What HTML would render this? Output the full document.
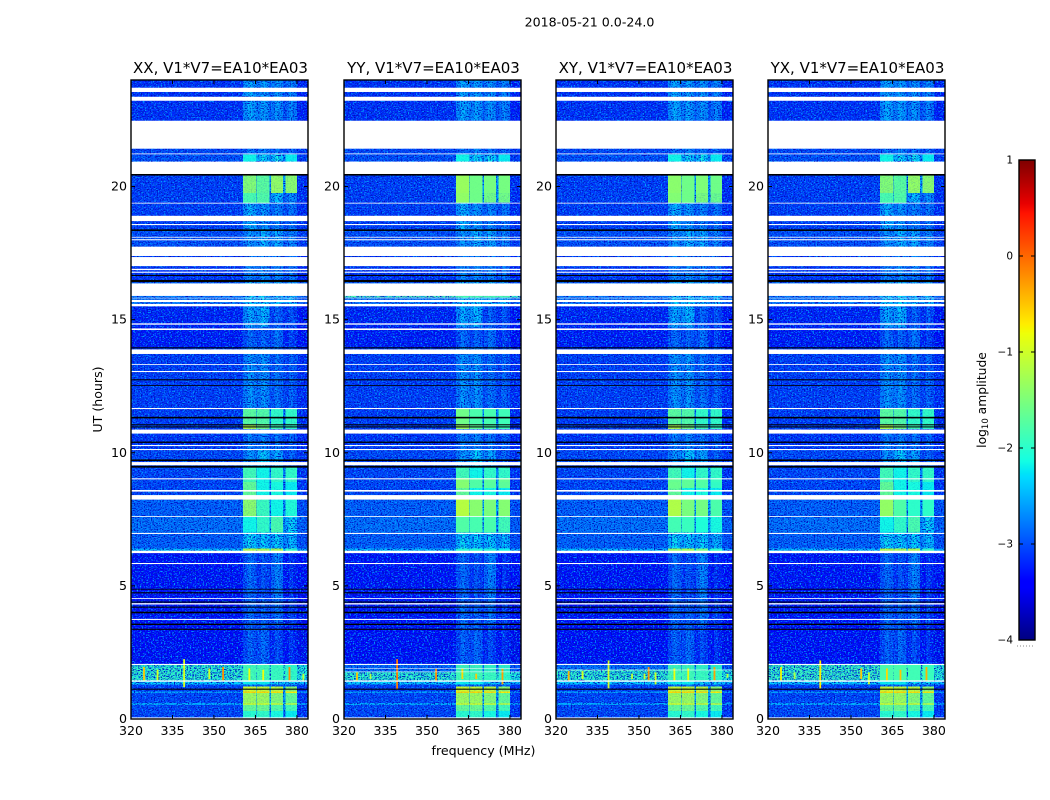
<!DOCTYPE html>
<html lang="en">
<head>
<meta charset="utf-8">
<title>2018-05-21 dynamic spectrum</title>
<style>
html,body{margin:0;padding:0;background:#fff;width:1050px;height:800px;overflow:hidden}
svg{display:block}
text{font-family:"DejaVu Sans","Liberation Sans",sans-serif;fill:#000}
</style>
</head>
<body>
<svg id="chart" xmlns="http://www.w3.org/2000/svg" width="1050" height="800" viewBox="0 0 1050 800">
<defs>
<filter id="speck-light" x="0" y="0" width="100%" height="100%" color-interpolation-filters="sRGB">
<feTurbulence type="fractalNoise" baseFrequency="0.62 0.8" numOctaves="1" seed="4"/>
<feColorMatrix type="matrix" values="0 0 0 0 0  0 0 0 0 0.62  0 0 0 0 1  5 0 0 0 -2.45"/>
</filter>
<filter id="speck-dark" x="0" y="0" width="100%" height="100%" color-interpolation-filters="sRGB">
<feTurbulence type="fractalNoise" baseFrequency="0.7 0.85" numOctaves="1" seed="11"/>
<feColorMatrix type="matrix" values="0 0 0 0 0  0 0 0 0 0.05  0 0 0 0 0.75  5 0 0 0 -2.45"/>
</filter>
</defs>
<text x="589.5" y="26.5" text-anchor="middle" font-size="12.6">2018-05-21 0.0-24.0</text>
<text x="483.5" y="755" text-anchor="middle" font-size="12.6">frequency (MHz)</text>
<text transform="translate(102,399.5) rotate(-90)" text-anchor="middle" font-size="12.6">UT (hours)</text>
<text transform="translate(986,400) rotate(-90)" text-anchor="middle" font-size="12.3">log<tspan font-size="8.5" dy="2">10</tspan><tspan dy="-2"> amplitude</tspan></text>
</svg>
<script>
// ----- chart data -----
const panelTitles = ["XX, V1*V7=EA10*EA03", "YY, V1*V7=EA10*EA03", "XY, V1*V7=EA10*EA03", "YX, V1*V7=EA10*EA03"];
const hourTicks = [0, 5, 10, 15, 20];
const freqTicks = [320, 335, 350, 365, 380];
const colorTicks = [1, 0, -1, -2, -3, -4];
// sub-band frequency ranges in MHz (the RFI comb), and the shape across a quiet sub-band
const subBands = [[360.5, 365.3], [365.6, 370], [370.7, 375], [375.8, 380]];
const subBandShape = [-0.12, 0.1, -0.03];
// time bands: start hour, end hour, log10 amplitude for background and sub-bands 1-4
const timeBands = [
  [22.5, 24, -3.17, -2.55, -2.6, -2.65, -2.75],
  [21.42, 22.5, -3.15, -2.75, -2.75, -2.85, -2.95],
  [21.21, 21.42, -3.05, -2.85, -2.75, -2.85, -2.95],
  [20.93, 21.21, -3.0, -2.15, -2.3, -2.25, -2.2],
  [19.76, 20.45, -3.1, -1.45, -1.7, -1.35, -1.4],
  [19.36, 19.76, -3.1, -1.8, -1.75, -2.4, -2.7],
  [18.4, 19.36, -3.1, -2.5, -2.65, -2.75, -2.85],
  [17.4, 18.4, -3.0, -2.65, -2.5, -2.55, -2.75],
  [16.4, 17.4, -3.15, -2.75, -2.7, -2.75, -2.85],
  [15.55, 16.4, -2.8, -2.35, -2.35, -2.45, -2.45],
  [14.7, 15.55, -3.25, -2.55, -2.45, -2.95, -3.05],
  [13.95, 14.7, -3.3, -2.9, -2.95, -2.85, -3.15],
  [11.66, 13.95, -3.1, -2.65, -2.65, -2.85, -2.95],
  [11.07, 11.66, -3.1, -1.7, -1.75, -1.95, -1.95],
  [10.9, 11.07, -3.1, -1.2, -1.55, -1.85, -1.95],
  [10.1, 10.9, -3.15, -2.8, -2.75, -2.85, -2.95],
  [9.5, 10.1, -3.05, -2.65, -2.35, -2.55, -2.95],
  [8.9, 9.5, -3.05, -1.85, -2.15, -1.95, -1.95],
  [8.24, 8.9, -3.05, -1.65, -2.15, -2.1, -2.2],
  [7.6, 8.24, -2.9, -1.4, -1.9, -2.15, -2.05],
  [7.0, 7.6, -2.8, -2.15, -1.95, -1.8, -2.3],
  [6.4, 7.0, -2.9, -2.3, -2.35, -2.35, -2.45],
  [6.25, 6.4, -2.4, -1.15, -1.2, -1.2, -1.95],
  [4.5, 6.25, -3.35, -2.9, -3.05, -2.75, -3.25],
  [3.5, 4.5, -3.35, -2.9, -2.95, -2.85, -3.15],
  [2.05, 3.5, -3.4, -2.95, -2.9, -3.1, -3.25],
  [1.42, 2.05, -1.95, -1.85, -1.85, -1.9, -1.95],
  [1.3, 1.42, -2.3, -2.2, -2.2, -2.3, -2.3],
  [1.22, 1.3, -3.05, -2.8, -2.8, -2.9, -2.95],
  [1.03, 1.22, -3.1, -1.0, -1.05, -1.1, -1.4],
  [0.98, 1.03, -2.5, -0.6, -0.6, -0.65, -0.7],
  [0.6, 0.98, -3.05, -1.3, -1.3, -1.45, -1.65],
  [0.52, 0.6, -2.5, -1.1, -1.1, -1.15, -1.25],
  [0.3, 0.52, -3.05, -1.65, -1.6, -1.75, -1.85],
  [0, 0.3, -3.05, -2.0, -1.95, -2.1, -2.2]
];
// bands that differ by polarisation, painted over the shared bands
const panelBands = [
  [],
  [
    [19.4, 20.45, -3.1, -1.3, -1.55, -1.55, -1.55],
    [15.83, 15.89, -1.8, -1.8, -1.8, -1.8, -1.8],
    [11.07, 11.66, -3.1, -1.55, -1.8, -1.8, -1.85],
    [10.9, 11.07, -3.1, -1.35, -1.7, -1.8, -1.9],
    [8.67, 9.05, -3.05, -1.4, -1.7, -1.65, -1.6],
    [7.62, 8.24, -2.9, -1.1, -1.35, -1.4, -1.35],
    [7.0, 7.62, -2.8, -1.7, -1.8, -1.8, -1.85],
    [6.25, 6.4, -2.4, -2.15, -2.15, -2.2, -2.2],
    [1.78, 2.03, -2.85, -2.6, -2.6, -2.7, -2.8]
  ],
  [
    [19.4, 20.45, -3.1, -1.4, -1.55, -1.5, -1.6],
    [8.67, 9.05, -3.05, -1.6, -1.6, -1.7, -1.9],
    [7.62, 8.24, -2.9, -1.15, -1.45, -1.45, -1.75],
    [7.0, 7.62, -2.8, -1.8, -1.9, -2.1, -2.1],
    [6.25, 6.4, -2.4, -1.4, -1.3, -1.6, -2.0],
    [1.85, 2.03, -2.8, -2.5, -2.5, -2.6, -2.7]
  ],
  [
    [7.62, 8.24, -2.9, -1.35, -1.75, -1.95, -1.95],
    [1.42, 2.03, -1.9, -1.8, -1.8, -1.85, -1.9]
  ]
];
// flagged (blank) time ranges in hours
const gapHours = [
  [23.55, 23.71], [23.22, 23.37], [21.42, 22.47], [21.21, 21.24], [20.47, 20.93], [19.36, 19.39], [18.7, 18.9], [18.55, 18.59],
  [18.08, 18.11], [17.98, 18.02], [17.39, 17.74], [17.01, 17.35], [16.86, 16.91], [16.76, 16.8], [15.89, 16.36], [15.8, 15.82],
  [15.66, 15.74], [15.5, 15.59], [14.81, 14.86], [14.61, 14.67], [13.71, 13.88], [13.3, 13.33], [13.03, 13.07], [11.64, 11.68],
  [10.72, 10.87], [10.25, 10.29], [10.1, 10.14], [9.53, 9.65], [9.0, 9.04], [8.54, 8.6], [8.24, 8.41], [7.59, 7.62],
  [6.95, 6.99], [6.23, 6.32], [5.82, 5.86], [4.51, 4.54], [4.3, 4.35], [3.72, 3.76], [2.03, 2.07], [1.4, 1.45], [0, 0.06]
];
// fully dropped samples drawn as black rows, in hours
const blackHours = [
  [20.41, 20.47], [18.33, 18.39], [16.64, 16.68], [16.41, 16.49], [13.92, 13.96], [12.72, 12.76], [12.51, 12.54], [11.29, 11.35],
  [11.03, 11.07], [10.95, 10.99], [10.37, 10.42], [9.69, 9.75], [9.44, 9.51], [4.86, 4.89], [4.72, 4.76], [4.37, 4.41],
  [4.18, 4.22], [3.97, 4.03], [3.53, 3.58], [3.35, 3.39], [1.1, 1.14]
];
// extra blank rows per polarisation
const panelGaps = [
  [],
  [[1.76, 1.78], [1.88, 1.9]],
  [[1.83, 1.85]],
  []
];
// narrow-band interferers per polarisation: frequency, start hour, end hour, value
const panelSpikes = [
  [[324.7, 1.45, 1.95, -0.55], [329.6, 1.45, 1.85, -0.95], [339.2, 1.2, 2.25, -0.95], [348.3, 1.5, 1.9, -1.0], [353.3, 1.45, 1.95, -0.2], [362.8, 1.45, 1.9, -0.8], [367.8, 1.45, 1.85, -0.8], [377.3, 1.45, 1.95, -0.2], [382.3, 1.45, 1.7, -1.1]],
  [[324.7, 1.45, 1.75, -0.5], [329.6, 1.5, 1.7, -1.2], [339.2, 1.1, 2.25, -0.1], [353.3, 1.4, 1.9, -0.2], [362.8, 1.5, 1.9, -0.6], [367.8, 1.5, 1.7, -0.5], [377.3, 1.3, 1.9, -0.3]],
  [[324.6, 1.45, 1.8, -0.4], [329.6, 1.5, 1.8, -0.95], [339, 1.15, 2.2, -0.95], [347.5, 1.5, 1.7, -1.1], [352, 1.5, 1.7, -1.05], [353.5, 1.45, 1.95, -0.2], [356, 1.3, 1.75, -1.0], [362.8, 1.45, 1.9, -0.8], [367.8, 1.45, 1.9, -0.85], [377.3, 1.45, 1.95, -0.3], [382, 1.55, 1.7, -1.1]],
  [[324.7, 1.45, 1.95, -0.75], [329.6, 1.5, 1.75, -1.2], [338.9, 1.15, 2.2, -0.7], [353.7, 1.5, 1.9, -0.5], [356.5, 1.3, 1.75, -1.0], [363, 1.45, 1.9, -0.6], [367.9, 1.45, 1.85, -0.5], [377.3, 1.45, 1.95, -0.4]]
];

// ----- layout -----
const SVG_NS = "http://www.w3.org/2000/svg";
const panelLefts = [131, 344, 556, 768];
const panelWidth = 177, plotTop = 80, plotBottom = 719;
const freqMin = 320, freqMax = 384, hourMax = 24, cMin = -4, cMax = 1;
const barLeft = 1019, barWidth = 16, barTop = 160, barBottom = 640;
const root = document.getElementById("chart");

function xScale(p, f) { return panelLefts[p] + (f - freqMin) / (freqMax - freqMin) * panelWidth; }
function yScale(h) { return plotBottom - h / hourMax * (plotBottom - plotTop); }
function cScale(v) { return barBottom - (v - cMin) / (cMax - cMin) * (barBottom - barTop); }
function ramp(t, pts) {
  for (let i = 1; i < pts.length; i++) {
    if (t <= pts[i][0]) return pts[i-1][1] + (pts[i][1] - pts[i-1][1]) * (t - pts[i-1][0]) / (pts[i][0] - pts[i-1][0]);
  }
  return pts[pts.length-1][1];
}
function jet(v) {
  const t = Math.max(0, Math.min(1, (v - cMin) / (cMax - cMin)));
  const r = ramp(t, [[0,0],[.35,0],[.66,1],[.89,1],[1,.5]]);
  const g = ramp(t, [[0,0],[.125,0],[.375,1],[.64,1],[.91,0],[1,0]]);
  const b = ramp(t, [[0,.5],[.11,1],[.34,1],[.65,0],[1,0]]);
  return "rgb(" + Math.round(r*255) + "," + Math.round(g*255) + "," + Math.round(b*255) + ")";
}
function rect(parent, x, y, w, h, fill) {
  const el = document.createElementNS(SVG_NS, "rect");
  el.setAttribute("x", x.toFixed(2));
  el.setAttribute("y", y.toFixed(2));
  el.setAttribute("width", w.toFixed(2));
  el.setAttribute("height", h.toFixed(2));
  el.setAttribute("fill", fill);
  parent.appendChild(el);
  return el;
}
function line(parent, x1, y1, x2, y2) {
  const el = document.createElementNS(SVG_NS, "line");
  el.setAttribute("x1", x1);
  el.setAttribute("y1", y1);
  el.setAttribute("x2", x2);
  el.setAttribute("y2", y2);
  el.setAttribute("stroke", "#000");
  el.setAttribute("stroke-width", "1");
  parent.appendChild(el);
  return el;
}
function label(parent, x, y, str, anchor, size) {
  const el = document.createElementNS(SVG_NS, "text");
  el.setAttribute("x", x);
  el.setAttribute("y", y);
  el.setAttribute("text-anchor", anchor);
  el.setAttribute("font-size", size);
  el.textContent = str;
  parent.appendChild(el);
  return el;
}
function group(parent) {
  const el = document.createElementNS(SVG_NS, "g");
  parent.appendChild(el);
  return el;
}
// Expands one time band into [f0, f1, value, isStrong] column segments.
function bandSegments(row) {
  const bg = row[2];
  const segs = [];
  let cursor = freqMin;
  subBands.forEach(function (sb, i) {
    const v = row[3 + i];
    if (sb[0] > cursor) {
      const gapV = i === 0 ? bg : Math.min(v, row[2 + i]) * 0.35 + bg * 0.65;
      segs.push([cursor, sb[0], gapV, false]);
    }
    const strong = v > -2.25;
    if (strong) {
      segs.push([sb[0], sb[1], v, true]);
    } else {
      const w = (sb[1] - sb[0]) / subBandShape.length;
      subBandShape.forEach(function (d, k) {
        segs.push([sb[0] + k * w, sb[0] + (k + 1) * w, v + d, false]);
      });
    }
    cursor = sb[1];
  });
  segs.push([cursor, freqMax, bg - 0.1, false]);
  return segs;
}

panelTitles.forEach(function (title, p) {
  const panel = group(root);
  
  

  const allBands = timeBands.concat(panelBands[p]);

  const cells = group(panel);
  
  
  cells.setAttribute("shape-rendering", "crispEdges");
  allBands.forEach(function (row) {
    bandSegments(row).forEach(function (seg) {
      const x0 = xScale(p, seg[0]), x1 = xScale(p, seg[1]);
      const y0 = yScale(row[1]), y1 = yScale(row[0]);
      const cell = rect(cells, x0, y0, x1 - x0, y1 - y0, jet(seg[2]));
      
      
    });
  });

  const light = rect(panel, panelLefts[p], plotTop, panelWidth, plotBottom - plotTop, "#000");
  light.setAttribute("filter", "url(#speck-light)");
  
  
  const dark = rect(panel, panelLefts[p], plotTop, panelWidth, plotBottom - plotTop, "#000");
  dark.setAttribute("filter", "url(#speck-dark)");
  
  

  // strong RFI is much smoother than the noise floor, so it is repainted over the speckle
  const strongCells = group(panel);
  
  
  strongCells.setAttribute("shape-rendering", "crispEdges");
  allBands.forEach(function (row) {
    bandSegments(row).forEach(function (seg) {
      if (!seg[3]) return;
      const x0 = xScale(p, seg[0]), x1 = xScale(p, seg[1]);
      const y0 = yScale(row[1]), y1 = yScale(row[0]);
      const cell = rect(strongCells, x0, y0, x1 - x0, y1 - y0, jet(seg[2]));
      cell.setAttribute("opacity", "0.85");
      
      
    });
  });

  panelSpikes[p].forEach(function (sp) {
    const x = xScale(p, sp[0]);
    const mark = rect(panel, x - 0.9, yScale(sp[2]), 1.8, yScale(sp[1]) - yScale(sp[2]), jet(sp[3]));
    
    
  });

  gapHours.concat(panelGaps[p]).forEach(function (g) {
    const mark = rect(panel, panelLefts[p], yScale(g[1]), panelWidth, yScale(g[0]) - yScale(g[1]), "#fff");
    
    
  });
  blackHours.forEach(function (g) {
    const mark = rect(panel, panelLefts[p], yScale(g[1]), panelWidth, yScale(g[0]) - yScale(g[1]), "#000");
    
    
  });

  const frame = rect(panel, panelLefts[p], plotTop, panelWidth, plotBottom - plotTop, "none");
  frame.setAttribute("stroke", "#000");
  frame.setAttribute("stroke-width", "1.4");
  
  

  const titleEl = label(panel, panelLefts[p] + panelWidth / 2 + 1, 73, title, "middle", 15);
  
  

  hourTicks.forEach(function (h) {
    const y = yScale(h);
    const t1 = line(panel, panelLefts[p], y, panelLefts[p] + 4, y);
    
    
    const t2 = line(panel, panelLefts[p] + panelWidth - 4, y, panelLefts[p] + panelWidth, y);
    
    
    const lab = label(panel, panelLefts[p] - 4, y + 4, String(h), "end", 12.6);
    
    
  });
  freqTicks.forEach(function (f) {
    const x = xScale(p, f);
    const t1 = line(panel, x, plotBottom - 4, x, plotBottom);
    
    
    const t2 = line(panel, x, plotTop, x, plotTop + 4);
    
    
    const lab = label(panel, x, 735, String(f), "middle", 12.6);
    
    
  });
});

// ----- colorbar -----
const bar = group(root);


const barCells = group(bar);


barCells.setAttribute("shape-rendering", "crispEdges");
for (let i = 0; i < 240; i++) {
  const v0 = cMin + (cMax - cMin) * i / 240, v1 = cMin + (cMax - cMin) * (i + 1) / 240;
  const swatch = rect(barCells, barLeft, cScale(v1), barWidth, cScale(v0) - cScale(v1) + 0.5, jet((v0 + v1) / 2));
  
  
}
const barFrame = rect(bar, barLeft, barTop, barWidth, barBottom - barTop, "none");
barFrame.setAttribute("stroke", "#000");
barFrame.setAttribute("stroke-width", "1.4");


colorTicks.forEach(function (v) {
  const y = cScale(v);
  const t1 = line(bar, barLeft, y, barLeft + 4, y);
  
  
  const t2 = line(bar, barLeft + barWidth - 4, y, barLeft + barWidth, y);
  
  
  const lab = label(bar, barLeft - 6, y + 3.5, (v < 0 ? "\u2212" + (-v) : String(v)), "end", 10.5);
  
  
});
const dots = line(bar, barLeft - 2, 646, barLeft + barWidth, 646);
dots.setAttribute("stroke", "#888");
dots.setAttribute("stroke-dasharray", "1 2");


</script>
</body>
</html>
